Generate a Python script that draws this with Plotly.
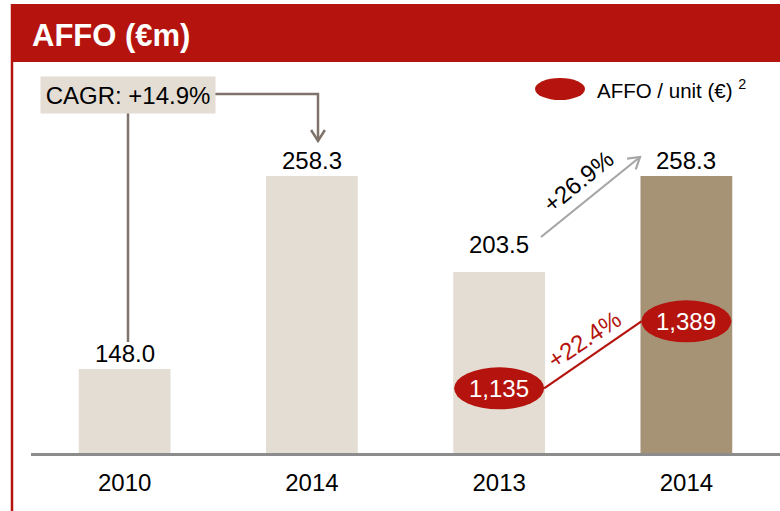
import math
import plotly.graph_objects as go

# ---------------- data ----------------
categories = ["2010", "2014", "2013", "2014"]
affo = [148.0, 258.3, 203.5, 258.3]
affo_labels = ["148.0", "258.3", "203.5", "258.3"]
unit_idx = [2, 3]
affo_unit = [1135, 1389]
affo_unit_labels = ["1,135", "1,389"]
title_text = "AFFO (€m)"
cagr_text = "CAGR: +14.9%"
growth_affo_text = "+26.9%"
growth_unit_text = "+22.4%"
legend_text = "AFFO / unit (€) <sup>2</sup>"

# ---------------- style / layout constants ----------------
W, H = 780, 511
ML, MR, MT, MB = 31, 0, 62, 58
PW, PH = W - ML - MR, H - MT - MB
Y_MIN, PX_PER_UNIT = 100, 1.75
Y_MAX = Y_MIN + PH / PX_PER_UNIT
Y2_MIN, PX_PER_UNIT2 = 890, 0.2638
Y2_MAX = Y2_MIN + PH / PX_PER_UNIT2
CAT_PX = PW / len(categories)

RED = "#B5140E"
LIGHT = "#E3DDD4"
DARK = "#A69274"
CONNECT = "#7F736B"
GREY_ARROW = "#A6A6A6"
FONT = "Liberation Sans, Arial, sans-serif"
bar_colors = [LIGHT, LIGHT, LIGHT, DARK]
label_yshift = [0, 0, 12, 0]
ELL_W, ELL_H = 90, 42


def px2x(px):
    return (px - ML) / PW


def py2y(py):
    return (H - MB - py) / PH


def pix_path(points):
    return "M " + " L ".join(f"{px2x(a):.5f},{py2y(b):.5f}" for a, b in points)


def chevron(hx, hy, tx, ty, length=13, theta=32):
    d = math.hypot(hx - tx, hy - ty)
    ux, uy = (hx - tx) / d, (hy - ty) / d
    pts = []
    for s in (1, -1):
        a = math.radians(theta) * s
        rx = ux * math.cos(a) - uy * math.sin(a)
        ry = ux * math.sin(a) + uy * math.cos(a)
        pts.append((hx - length * rx, hy - length * ry))
    return pix_path([pts[0], (hx, hy), pts[1]])


xs = list(range(len(categories)))
fig = go.Figure()
fig.add_trace(go.Bar(x=xs, y=affo, marker=dict(color=bar_colors, line=dict(width=0)),
                     width=0.49, hoverinfo="skip", showlegend=False))

# AFFO / unit connecting line (between ellipse edges)
hw = (ELL_W / 2) / CAT_PX
ux = [unit_idx[0] + hw, unit_idx[1] - hw]
fig.add_trace(go.Scatter(x=ux, y=affo_unit, yaxis="y2", mode="lines",
                         line=dict(color=RED, width=2.2), hoverinfo="skip", showlegend=False))

shapes = []
annotations = []

# title band
shapes.append(dict(type="rect", xref="paper", yref="paper", x0=px2x(11), x1=px2x(781),
                   y0=py2y(62), y1=py2y(4), fillcolor=RED, line=dict(width=0), layer="below"))
shapes.append(dict(type="line", xref="paper", yref="paper", x0=px2x(12), x1=px2x(12),
                   y0=py2y(4), y1=py2y(512), line=dict(color=RED, width=2.5)))
annotations.append(dict(text="<b>" + title_text + "</b>", xref="paper", yref="paper",
                        x=px2x(30), y=py2y(35), xanchor="left", yanchor="middle", showarrow=False,
                        font=dict(family=FONT, size=31, color="white")))

# value labels
for i, (v, t) in enumerate(zip(affo, affo_labels)):
    annotations.append(dict(text=t, x=i, y=v, xref="x", yref="y", xanchor="center", yanchor="bottom",
                            yshift=label_yshift[i], showarrow=False,
                            font=dict(family=FONT, size=24, color="black")))

# ellipses for AFFO / unit
for i, v, t in zip(unit_idx, affo_unit, affo_unit_labels):
    shapes.append(dict(type="circle", xref="x", yref="y2", xsizemode="pixel", ysizemode="pixel",
                       xanchor=i, yanchor=v, x0=-ELL_W / 2, x1=ELL_W / 2,
                       y0=-ELL_H / 2, y1=ELL_H / 2, fillcolor=RED, line=dict(width=0)))
    annotations.append(dict(text=t, x=i, y=v, xref="x", yref="y2", xanchor="center", yanchor="middle",
                            showarrow=False, font=dict(family=FONT, size=24, color="white")))

# growth labels
annotations.append(dict(text=growth_unit_text, xref="paper", yref="paper", x=px2x(584), y=py2y(339),
                        xanchor="center", yanchor="middle", showarrow=False, textangle=-34,
                        font=dict(family=FONT, size=24, color=RED)))
annotations.append(dict(text=growth_affo_text, xref="paper", yref="paper", x=px2x(578), y=py2y(181),
                        xanchor="center", yanchor="middle", showarrow=False, textangle=-39,
                        font=dict(family=FONT, size=24, color="black")))

# grey arrow 203.5 -> 258.3
shapes.append(dict(type="path", xref="paper", yref="paper", path=pix_path([(541, 237), (640, 157)]),
                   line=dict(color=GREY_ARROW, width=2.2)))
shapes.append(dict(type="path", xref="paper", yref="paper", path=chevron(640, 157, 541, 237),
                   line=dict(color=GREY_ARROW, width=2.2)))

# CAGR box and connectors
shapes.append(dict(type="path", xref="paper", yref="paper", path=pix_path([(128, 113), (128, 342)]),
                   line=dict(color=CONNECT, width=2.5)))
shapes.append(dict(type="path", xref="paper", yref="paper",
                   path=pix_path([(214, 94), (318, 94), (318, 141)]),
                   line=dict(color=CONNECT, width=2.5)))
shapes.append(dict(type="path", xref="paper", yref="paper", path=chevron(318, 141, 318, 94),
                   line=dict(color=CONNECT, width=2.5)))
annotations.append(dict(text=cagr_text, xref="paper", yref="paper", x=px2x(128), y=py2y(95),
                        xanchor="center", yanchor="middle",
                        showarrow=False, width=170, height=32, borderpad=2, bgcolor=LIGHT,
                        font=dict(family=FONT, size=24, color="black")))

# legend
shapes.append(dict(type="circle", xref="paper", yref="paper", xsizemode="pixel", ysizemode="pixel",
                   xanchor=px2x(560), yanchor=py2y(89), x0=-25, x1=25, y0=-11, y1=11,
                   fillcolor=RED, line=dict(width=0)))
annotations.append(dict(text=legend_text, xref="paper", yref="paper", x=px2x(595), y=py2y(89),
                        xanchor="left", yanchor="middle", showarrow=False,
                        font=dict(family=FONT, size=20.5, color="black")))

fig.update_layout(
    width=W, height=H, margin=dict(l=ML, r=MR, t=MT, b=MB),
    paper_bgcolor="white", plot_bgcolor="white", showlegend=False,
    xaxis=dict(range=[-0.5, 3.5], tickmode="array", tickvals=xs, ticktext=categories,
               showgrid=False, zeroline=False, showline=True, linecolor="#8C8C8C", linewidth=3,
               ticks="outside", ticklen=6, tickcolor="rgba(0,0,0,0)",
               tickfont=dict(family=FONT, size=24, color="black"), fixedrange=True),
    yaxis=dict(range=[Y_MIN, Y_MAX], visible=False, fixedrange=True),
    yaxis2=dict(range=[Y2_MIN, Y2_MAX], overlaying="y", visible=False, fixedrange=True),
    shapes=shapes, annotations=annotations,
)

fig.write_html("out.html", config={"displayModeBar": False},
               post_script="document.body.style.margin='0';")
